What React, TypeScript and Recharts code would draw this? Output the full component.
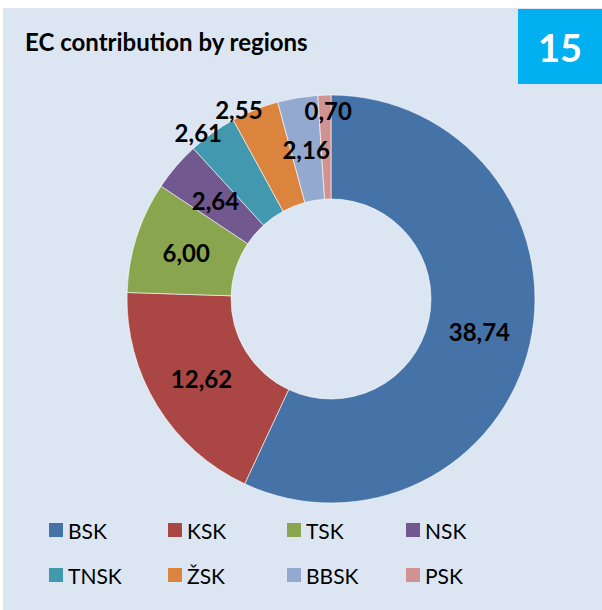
import React from 'react';
import { PieChart, Pie, Cell, Legend } from 'recharts';

const regions = ['BSK', 'KSK', 'TSK', 'NSK', 'TNSK', 'ŽSK', 'BBSK', 'PSK'];
const contributions = [38.74, 12.62, 6.0, 2.64, 2.61, 2.55, 2.16, 0.7];
const colors = ['#4572a7', '#aa4643', '#89a54e', '#71588f', '#4198af', '#db843d', '#93a9cf', '#d19392'];

const data = regions.map((name, i) => ({ name, value: contributions[i] }));

const RAD = Math.PI / 180;
// small slices get their label pushed out past the ring (like Excel's best fit)
// dr = px beyond outer radius, da = degrees turned counterclockwise
const labelShift: Record<string, { dr: number; da: number }> = {
  TNSK: { dr: 9, da: 3 },
  'ŽSK': { dr: 7, da: 4 },
  PSK: { dr: -15, da: -1 },
};

const renderLabel = (props: any) => {
  const { cx, cy, midAngle, innerRadius, outerRadius, value, name } = props;
  const shift = labelShift[name];
  const r = shift ? outerRadius + shift.dr : (innerRadius + outerRadius) / 2;
  const angle = shift ? midAngle + shift.da : midAngle;
  const x = cx + r * Math.cos(-angle * RAD);
  const y = cy + r * Math.sin(-angle * RAD);
  return (
    <text
      x={x}
      y={y}
      textAnchor="middle"
      dominantBaseline="central"
      fill="#000"
      fontSize={24}
      fontWeight="bold"
      fontFamily="Lato"
    >
      {value.toFixed(2).replace('.', ',')}
    </text>
  );
};

const renderLegend = () => (
  <div style={{ display: 'grid', gridTemplateColumns: 'repeat(4, 119px)', rowGap: 25 }}>
    {regions.map((name, i) => (
      <div key={name} style={{ display: 'flex', alignItems: 'center', height: 20 }}>
        <div style={{ width: 14, height: 14, backgroundColor: colors[i], marginRight: 5 }}></div>
        <span style={{ fontSize: 21, color: '#000', fontFamily: 'Lato' }}>{name}</span>
      </div>
    ))}
  </div>
);

const App = () => {
  return (
    <div style={{ position: 'fixed', left: 0, top: 0, width: 602, height: 610, backgroundColor: 'white', overflow: 'hidden' }}>
      <div style={{ position: 'absolute', left: 3, top: 8, width: 599, height: 602, backgroundColor: '#dce6f2' }}></div>
      <div style={{
        position: 'absolute',
        left: 25,
        top: 27,
        fontFamily: 'Lato',
        fontWeight: 'bold',
        fontSize: 24,
        color: '#000'
      }}>
        EC contribution by regions
      </div>
      <div style={{
        position: 'absolute',
        left: 518,
        top: 9,
        width: 84,
        height: 75,
        backgroundColor: '#00b0f0',
        color: 'white',
        fontFamily: 'Lato',
        fontWeight: 'bold',
        fontSize: 38,
        display: 'flex',
        alignItems: 'center',
        justifyContent: 'center'
      }}>
        15
      </div>
      <div style={{ position: 'absolute', left: 0, top: 0 }}>
        <PieChart width={602} height={610} margin={{ top: 0, right: 0, bottom: 0, left: 0 }}>
          <Pie
            data={data}
            dataKey="value"
            nameKey="name"
            cx={331}
            cy={299}
            innerRadius={100}
            outerRadius={204}
            startAngle={90}
            endAngle={-270}
            stroke="#ffffff"
            strokeWidth={0.6}
            label={renderLabel}
            labelLine={false}
            isAnimationActive={false}
          >
            {data.map((d, i) => (
              <Cell key={d.name} fill={colors[i]} />
            ))}
          </Pie>
          <Legend
            content={renderLegend}
            wrapperStyle={{ position: 'absolute', left: 49, top: 520, width: 500 }}
          />
        </PieChart>
      </div>
    </div>
  );
};

export default App;
